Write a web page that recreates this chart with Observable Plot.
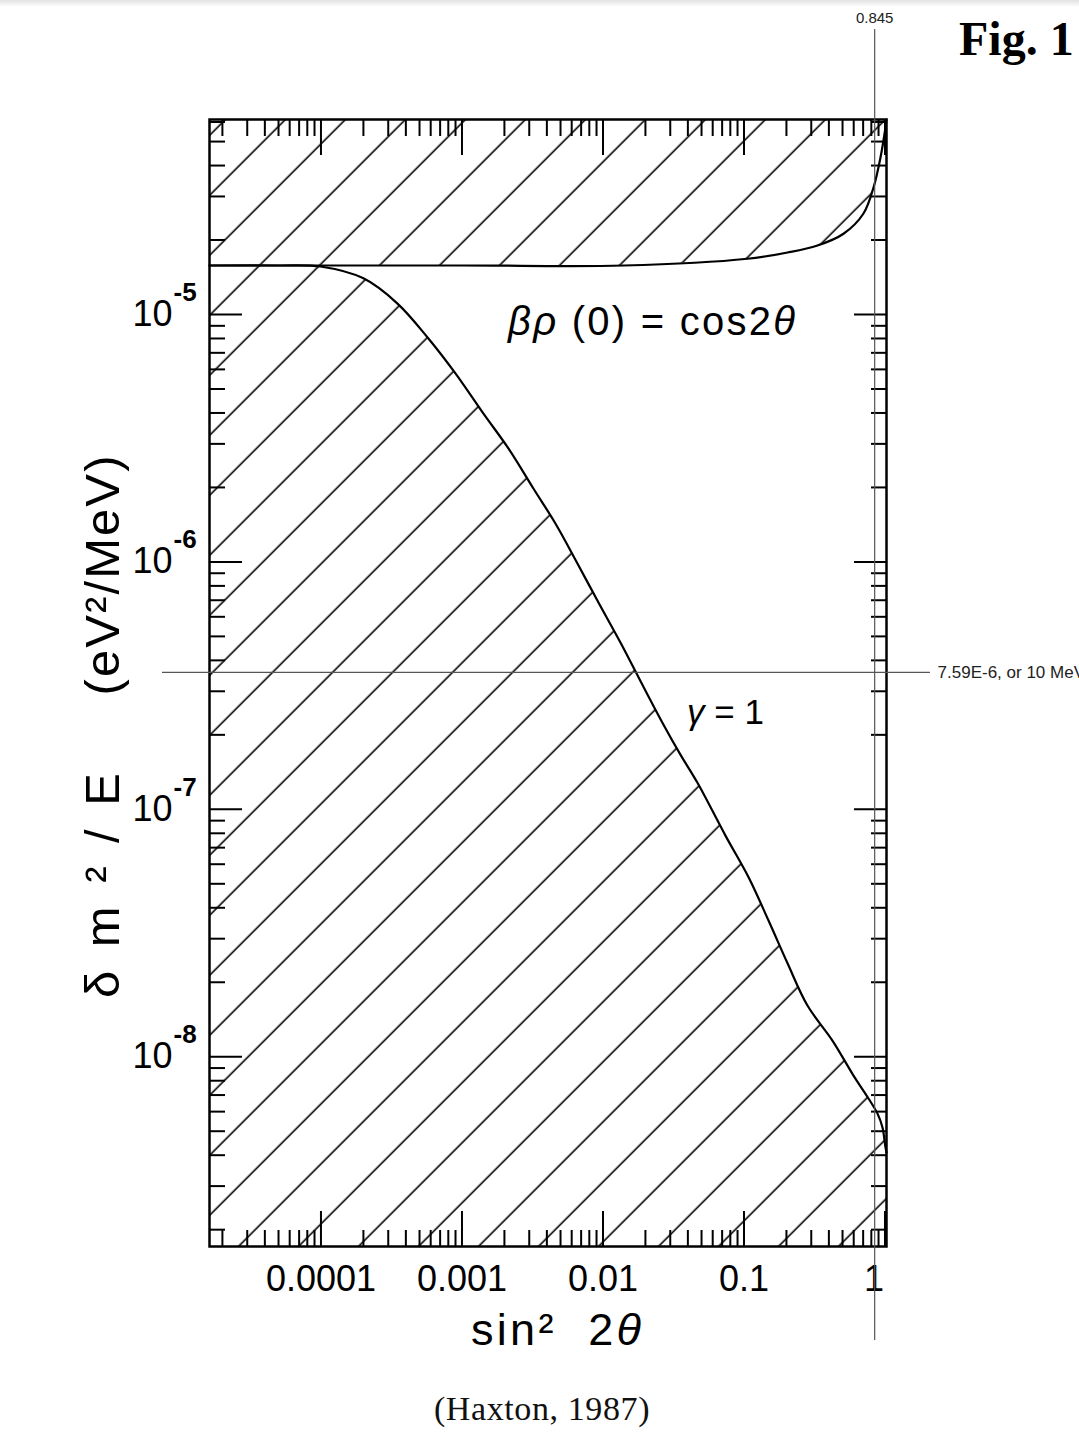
<!DOCTYPE html>
<html>
<head>
<meta charset="utf-8">
<script src="https://cdn.jsdelivr.net/npm/d3@7"></script>
<script src="https://cdn.jsdelivr.net/npm/@observablehq/plot@0.6"></script>
<style>
  html, body { margin: 0; padding: 0; background: #fff; }
  body { width: 1079px; height: 1435px; position: relative; overflow: hidden; font-family: "Liberation Sans", Arial, sans-serif; }
  #band { position: absolute; left: 0; top: 0; width: 1079px; height: 7px; background: linear-gradient(#e2e2e2, #ffffff); }
  #chart { position: absolute; left: 0; top: 0; }
  #fig { position: absolute; left: 959px; top: 15px; font: bold 48px/48px "Liberation Serif", serif; white-space: nowrap; color: #000; }
  #cap { position: absolute; left: 542px; top: 1392px; transform: translateX(-50%); font: 34px/34px "Liberation Serif", serif; letter-spacing: 0.6px; white-space: nowrap; color: #111; }
</style>
</head>
<body>
<div id="band"></div>
<div id="chart"></div>
<div id="fig">Fig. 1</div>
<div id="cap">(Haxton, 1987)</div>
<script>
// ---- scale extents ----
const xDomain = [1.62e-5, 1.025];
const yDomain = [1.71e-9, 6.14e-5];

// ---- upper boundary: βρ(0) = cos2θ ----
const betaX = [1.62e-5, 1.0e-3, 0.0140, 0.106, 0.204, 0.332, 0.508, 0.704, 0.829, 0.929, 1.008, 1.025];
const betaY = [1.578e-5, 1.578e-5, 1.578e-5, 1.68e-5, 1.78e-5, 1.90e-5, 2.12e-5, 2.56e-5, 3.26e-5, 4.31e-5, 5.70e-5, 6.14e-5];

// ---- lower boundary: γ = 1 ----
const gammaX = [1.62e-5, 5.0e-5, 9.91e-5, 2.00e-4, 3.49e-4, 5.78e-4, 8.99e-4, 1.40e-3, 2.14e-3, 3.21e-3, 4.60e-3, 6.59e-3, 9.29e-3, 1.33e-2, 1.79e-2, 2.64e-2, 3.55e-2, 4.68e-2, 7.39e-2, 0.108, 0.149, 0.204, 0.282, 0.425, 0.598, 0.764, 0.885, 0.960, 1.008, 1.025];
const gammaY = [1.578e-5, 1.578e-5, 1.563e-5, 1.40e-5, 1.107e-5, 8.0e-6, 5.78e-6, 4.02e-6, 2.87e-6, 1.98e-6, 1.43e-6, 9.86e-7, 6.85e-7, 4.72e-7, 3.41e-7, 2.24e-7, 1.66e-7, 1.28e-7, 7.83e-8, 5.30e-8, 3.56e-8, 2.38e-8, 1.61e-8, 1.16e-8, 8.39e-9, 6.78e-9, 5.89e-9, 5.18e-9, 4.30e-9, 4.1e-9];

// ---- ticks and tick labels ----
const xMajorTicks = [1e-4, 1e-3, 1e-2, 1e-1, 1];
const xTickLabels = ["0.0001", "0.001", "0.01", "0.1", "1"];
const yMajorTicks = [1e-5, 1e-6, 1e-7, 1e-8];
const yTickExponents = ["-5", "-6", "-7", "-8"];
const mantissas = [2, 3, 4, 5, 6, 7, 8, 9];
const xDecades = [1e-5, 1e-4, 1e-3, 1e-2, 1e-1];
const yDecades = [1e-9, 1e-8, 1e-7, 1e-6, 1e-5];

// ---- annotations (text and anchor in data units) ----
const betaLabel = ["βρ (0) = cos2θ"];
const betaLabelX = [0.0221];
const betaLabelY = [9.3e-6];
const gammaLabel = ["γ = 1"];
const gammaLabelX = [0.0739];
const gammaLabelY = [2.46e-7];
const markerX = [0.845];
const markerXLabel = ["0.845"];
const markerY = [3.58e-7];
const markerYLabel = ["7.59E-6, or 10 MeV"];
const xTitle = "sin²\u00a0\u00a02θ";
const yTitleParts = ["(eV²/MeV)", "δm²/E"];
const yTitleX = [2.87e-6, 2.87e-6];
const yTitleY = [8.81e-7, 4.92e-8];

// ---- build tables ----
const beta = betaX.map((x, i) => ({x, y: betaY[i]}));
const gamma = gammaX.map((x, i) => ({x, y: gammaY[i]}));
const inX = v => v >= xDomain[0] && v <= xDomain[1];
const inY = v => v >= yDomain[0] && v <= yDomain[1];
const xMinorTicks = xDecades.flatMap(d => mantissas.map(m => m * d)).filter(inX);
const yMinorTicks = yDecades.flatMap(d => mantissas.map(m => m * d)).filter(inY);
const xLab = xMajorTicks.map((v, i) => ({v, t: xTickLabels[i]}));
const yLab = yMajorTicks.map((v, i) => ({v, e: yTickExponents[i]}));
const betaAnno = betaLabel.map((t, i) => ({t, x: betaLabelX[i], y: betaLabelY[i]}));
const gammaAnno = gammaLabel.map((t, i) => ({t, x: gammaLabelX[i], y: gammaLabelY[i]}));
const yTitle = yTitleParts.map((t, i) => ({t, x: yTitleX[i], y: yTitleY[i]}));

const blank = () => "";
const tickAxis = (fn, anchor, ticks, size) => fn({anchor, ticks, tickSize: size, tickFormat: blank, label: null, strokeWidth: 2, tickPadding: 0});

const chart = Plot.plot({
  width: 1079,
  height: 1360,
  marginTop: 119,
  marginBottom: 114,
  marginLeft: 209,
  marginRight: 193,
  style: {fontFamily: "'Liberation Sans', Arial, sans-serif", color: "#000", background: "transparent", overflow: "visible"},
  x: {type: "log", domain: xDomain},
  y: {type: "log", domain: yDomain},
  marks: [
    // hatched regions
    Plot.areaY(beta, {x: "x", y1: "y", y2: () => yDomain[1], fill: "url(#hatch)", curve: "catmull-rom"}),
    Plot.areaY(gamma, {x: "x", y1: () => yDomain[0], y2: "y", fill: "url(#hatch)", curve: "catmull-rom"}),
    // boundary curves
    Plot.line(beta, {x: "x", y: "y", stroke: "#000", strokeWidth: 2.2, curve: "catmull-rom"}),
    Plot.line(gamma, {x: "x", y: "y", stroke: "#000", strokeWidth: 2.2, curve: "catmull-rom"}),
    // ticks (inward) on all four sides
    tickAxis(Plot.axisX, "bottom", xMinorTicks, -16),
    tickAxis(Plot.axisX, "bottom", xMajorTicks, -35),
    tickAxis(Plot.axisX, "top", xMinorTicks, -16),
    tickAxis(Plot.axisX, "top", xMajorTicks, -35),
    tickAxis(Plot.axisY, "left", yMinorTicks, -16),
    tickAxis(Plot.axisY, "left", yMajorTicks, -33),
    tickAxis(Plot.axisY, "right", yMinorTicks, -16),
    tickAxis(Plot.axisY, "right", yMajorTicks, -33),
    Plot.frame({stroke: "#000", strokeWidth: 2.5}),
    // x tick labels
    Plot.text(xLab.filter(d => d.t !== "1"), {x: "v", y: () => yDomain[0], text: "t", dy: 33, fontSize: 36, lineAnchor: "middle", fill: "#000"}),
    Plot.text(xLab.filter(d => d.t === "1"), {x: "v", y: () => yDomain[0], text: "t", dy: 33, dx: -11, fontSize: 36, lineAnchor: "middle", fill: "#000"}),
    // y tick labels 10^-n
    Plot.text(yLab, {x: () => xDomain[0], y: "v", text: () => "10", textAnchor: "end", dx: -37, fontSize: 36, lineAnchor: "middle", fill: "#000"}),
    Plot.text(yLab, {x: () => xDomain[0], y: "v", text: "e", textAnchor: "start", dx: -36, dy: -22, fontSize: 26, fontWeight: "bold", lineAnchor: "middle", fill: "#000"}),
    // axis titles
    Plot.text([xTitle], {frameAnchor: "bottom", text: d => d, dy: 84, dx: 8, fontSize: 45, lineAnchor: "middle", fill: "#000"}),
    Plot.text(yTitle, {x: "x", y: "y", text: "t", rotate: -90, fontSize: 49, lineAnchor: "middle", fill: "#000"}),
    // curve annotations
    Plot.text(betaAnno, {x: "x", y: "y", text: "t", fontSize: 40, lineAnchor: "middle", fill: "#000"}),
    Plot.text(gammaAnno, {x: "x", y: "y", text: "t", fontSize: 35, lineAnchor: "middle", fill: "#000"}),
    // overlay marker lines
    Plot.ruleX(markerX, {y1: () => 1.42e-4, y2: () => 7.13e-10, stroke: "#555", strokeWidth: 1.2}),
    Plot.text(markerX, {x: d => d, y: () => 1.58e-4, text: (d, i) => markerXLabel[i], fontSize: 15, lineAnchor: "middle", fill: "#222"}),
    Plot.ruleY(markerY, {x1: () => 7.52e-6, x2: () => 2.10, stroke: "#555", strokeWidth: 1.2}),
    Plot.text(markerY, {y: d => d, x: () => 2.36, text: (d, i) => markerYLabel[i], textAnchor: "start", fontSize: 17, lineAnchor: "middle", fill: "#222"})
  ]
});

// hatch pattern: lines at 45°, 60px horizontal spacing
const svg = d3.select(chart);
const w = 60 / Math.SQRT2;
const pat = svg.insert("defs", ":first-child").append("pattern")
  .attr("id", "hatch").attr("patternUnits", "userSpaceOnUse")
  .attr("width", w).attr("height", w)
  .attr("patternTransform", "rotate(45)");
pat.append("line").attr("x1", w * 0.75).attr("x2", w * 0.75).attr("y1", -1).attr("y2", w + 1)
  .attr("stroke", "#000").attr("stroke-width", 1.6);

// stretch texts to the measured spans of the hand lettering; italic Greek letters
const spans = {"βρ (0) = cos2θ": 287, "(eV²/MeV)": 240, "δm²/E": 225, [xTitle]: 170};
chart.querySelectorAll("text").forEach(el => {
  const s = el.textContent;
  if (spans[s]) { el.setAttribute("textLength", spans[s]); el.setAttribute("lengthAdjust", "spacing"); }
  if (!/[βργθ]/.test(s) || el.querySelector("tspan")) return;
  el.textContent = "";
  for (const ch of s) {
    const t = document.createElementNS("http://www.w3.org/2000/svg", "tspan");
    t.textContent = ch;
    if (/[βργθ]/.test(ch)) t.setAttribute("font-style", "italic");
    el.appendChild(t);
  }
});

document.getElementById("chart").appendChild(chart);
</script>
</body>
</html>
